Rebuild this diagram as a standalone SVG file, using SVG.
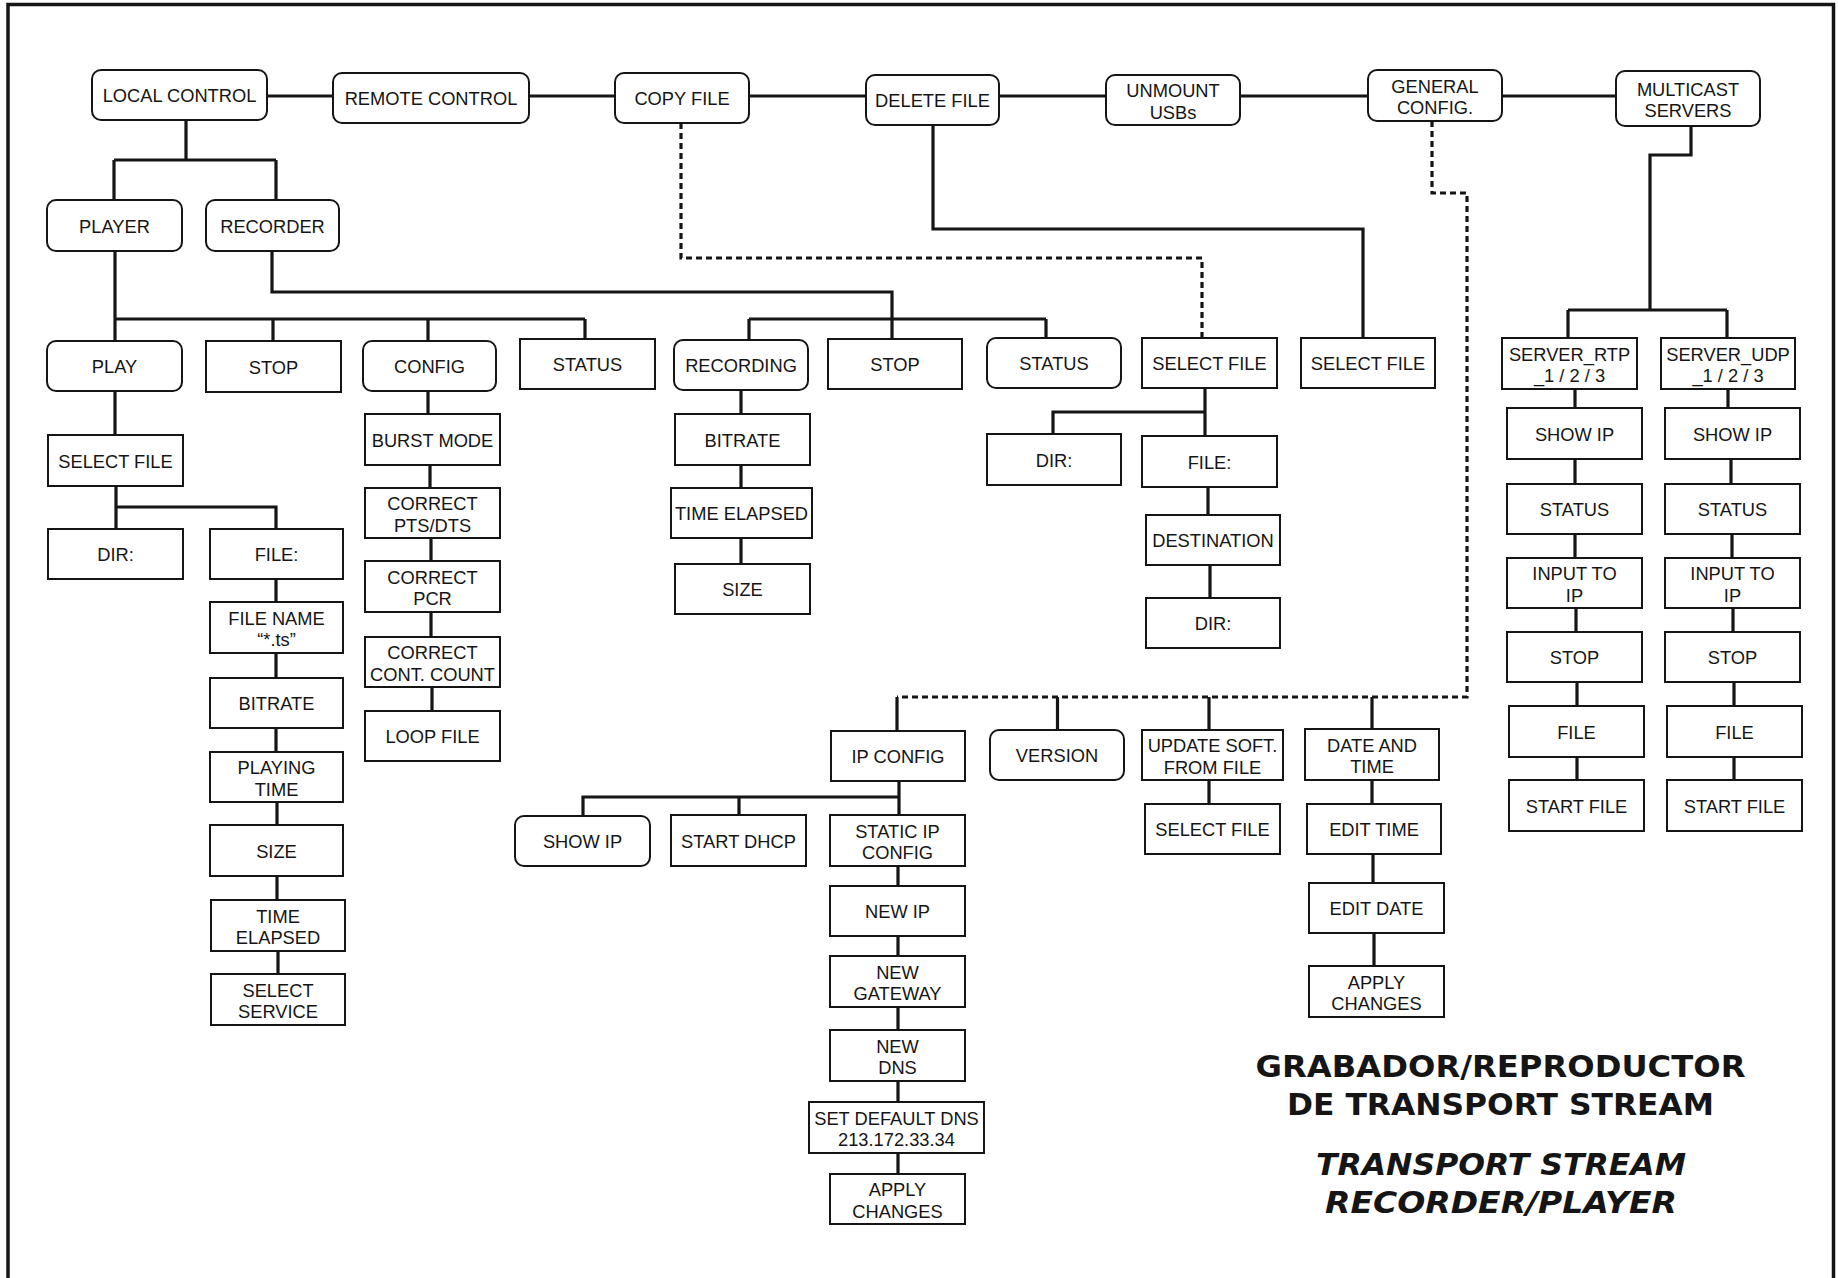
<svg xmlns="http://www.w3.org/2000/svg" width="1838" height="1278" viewBox="0 0 1838 1278">
<style>
.b{fill:#fff;stroke:#151515;stroke-width:2}
.t{font-family:"Liberation Sans",Arial,sans-serif;font-size:18.3px;text-anchor:middle;fill:#151515}
.c{fill:none;stroke:#151515;stroke-width:3.2}
.d{fill:none;stroke:#151515;stroke-width:3.2;stroke-dasharray:6 4}
.h{font-family:"DejaVu Sans",Verdana,sans-serif;font-weight:bold;font-size:30px;text-anchor:middle;fill:#151515}
</style>
<rect x="0" y="0" width="1838" height="1278" fill="#fff"/>
<rect x="8" y="4.5" width="1825.5" height="1300" fill="none" stroke="#151515" stroke-width="3.5"/>
<g id="connectors">
<path class="c" d="M267 96H333M529 96H615M749 96H866M999 96H1106M1240 96H1368M1502 96H1616"/>
<path class="c" d="M186 120V160M114 160H276M114 160V200M276 160V200"/>
<path class="c" d="M115 251V319H585M115 319V341M273 319V341M428 319V341M585 319V339"/>
<path class="c" d="M272 251V292H892V319M749 319H1046M749 319V340M892 319V339M1046 319V338"/>
<path class="c" d="M933 125V229H1363V338"/>
<path class="c" d="M1691 126V155H1650V310M1568 310H1727M1568 310V338M1727 310V338"/>
<path class="c" d="M115 391V435M116 486V507H276V529M116 507V529"/>
<path class="c" d="M276 579V602M276 653V678M276 728V752M277 802V825M277 876V900M278 951V974"/>
<path class="c" d="M428 391V414M430 465V488M431 538V561M431 612V637M432 687V711"/>
<path class="c" d="M741 390V414M741 465V488M741 538V564"/>
<path class="c" d="M1205 388V412H1053V434M1205 412V436M1208 487V515M1210 565V598"/>
<path class="c" d="M1575 389V408M1575 459V484M1575 534V558M1576 608V632M1577 682V706M1577 757V780"/>
<path class="c" d="M1728 389V408M1731 459V484M1732 534V558M1733 608V632M1734 682V706M1734 757V780"/>
<path class="c" d="M897 697V731M1057.5 697V730M1209 697V730M1372 697V729"/>
<path class="c" d="M899 781V797H583V816M739 797V815M899 797V815"/>
<path class="c" d="M898 866V886M898 936V956M898 1007V1030M898 1081V1102M898 1153V1174"/>
<path class="c" d="M1209 780V804M1372 780V804M1373 854V883M1374 933V966"/>
<path class="d" d="M681 123V258H1202V338"/>
<path class="d" d="M1432 121V193H1467V697H897"/>
</g>
<g id="local-control"><rect class="b" x="92" y="70" width="175" height="50" rx="9"/><text class="t" x="179.5" y="102">LOCAL CONTROL</text></g>
<g id="remote-control"><rect class="b" x="333" y="73" width="196" height="50" rx="9"/><text class="t" x="431" y="105">REMOTE CONTROL</text></g>
<g id="copy-file"><rect class="b" x="615" y="73" width="134" height="50" rx="9"/><text class="t" x="682" y="105">COPY FILE</text></g>
<g id="delete-file"><rect class="b" x="866" y="75" width="133" height="50" rx="9"/><text class="t" x="932.5" y="107">DELETE FILE</text></g>
<g id="unmount-usbs"><rect class="b" x="1106" y="75" width="134" height="50" rx="9"/><text class="t"><tspan x="1173" y="97">UNMOUNT</tspan><tspan x="1173" y="118.5">USBs</tspan></text></g>
<g id="general-config"><rect class="b" x="1368" y="70" width="134" height="51" rx="9"/><text class="t"><tspan x="1435" y="92.5">GENERAL</tspan><tspan x="1435" y="114">CONFIG.</tspan></text></g>
<g id="multicast-servers"><rect class="b" x="1616" y="71" width="144" height="55" rx="9"/><text class="t"><tspan x="1688" y="95.5">MULTICAST</tspan><tspan x="1688" y="117">SERVERS</tspan></text></g>
<g id="player"><rect class="b" x="47" y="200" width="135" height="51" rx="9"/><text class="t" x="114.5" y="232.5">PLAYER</text></g>
<g id="recorder"><rect class="b" x="206" y="200" width="133" height="51" rx="9"/><text class="t" x="272.5" y="232.5">RECORDER</text></g>
<g id="play"><rect class="b" x="47" y="341" width="135" height="50" rx="9"/><text class="t" x="114.5" y="373">PLAY</text></g>
<g id="player-stop"><rect class="b" x="206" y="341" width="135" height="51"/><text class="t" x="273.5" y="373.5">STOP</text></g>
<g id="config"><rect class="b" x="363" y="341" width="133" height="50" rx="9"/><text class="t" x="429.5" y="373">CONFIG</text></g>
<g id="player-status"><rect class="b" x="520" y="339" width="135" height="50"/><text class="t" x="587.5" y="371">STATUS</text></g>
<g id="recording"><rect class="b" x="674" y="340" width="134" height="50" rx="9"/><text class="t" x="741" y="372">RECORDING</text></g>
<g id="recorder-stop"><rect class="b" x="828" y="339" width="134" height="50"/><text class="t" x="895" y="371">STOP</text></g>
<g id="recorder-status"><rect class="b" x="987" y="338" width="134" height="50" rx="9"/><text class="t" x="1054" y="370">STATUS</text></g>
<g id="copy-select-file"><rect class="b" x="1142" y="338" width="135" height="50"/><text class="t" x="1209.5" y="370">SELECT FILE</text></g>
<g id="delete-select-file"><rect class="b" x="1301" y="338" width="134" height="50"/><text class="t" x="1368" y="370">SELECT FILE</text></g>
<g id="server-rtp"><rect class="b" x="1502" y="338" width="135" height="51"/><text class="t"><tspan x="1569.5" y="360.5">SERVER_RTP</tspan><tspan x="1569.5" y="382">_1 / 2 / 3</tspan></text></g>
<g id="server-udp"><rect class="b" x="1661" y="338" width="134" height="51"/><text class="t"><tspan x="1728" y="360.5">SERVER_UDP</tspan><tspan x="1728" y="382">_1 / 2 / 3</tspan></text></g>
<g id="player-select-file"><rect class="b" x="48" y="435" width="135" height="51"/><text class="t" x="115.5" y="467.5">SELECT FILE</text></g>
<g id="player-dir"><rect class="b" x="48" y="529" width="135" height="50"/><text class="t" x="115.5" y="561">DIR:</text></g>
<g id="player-file"><rect class="b" x="210" y="529" width="133" height="50"/><text class="t" x="276.5" y="561">FILE:</text></g>
<g id="file-name"><rect class="b" x="210" y="602" width="133" height="51"/><text class="t"><tspan x="276.5" y="624.5">FILE NAME</tspan><tspan x="276.5" y="646">“*.ts”</tspan></text></g>
<g id="player-bitrate"><rect class="b" x="210" y="678" width="133" height="50"/><text class="t" x="276.5" y="710">BITRATE</text></g>
<g id="playing-time"><rect class="b" x="210" y="752" width="133" height="50"/><text class="t"><tspan x="276.5" y="774">PLAYING</tspan><tspan x="276.5" y="795.5">TIME</tspan></text></g>
<g id="player-size"><rect class="b" x="210" y="825" width="133" height="51"/><text class="t" x="276.5" y="857.5">SIZE</text></g>
<g id="player-time-elapsed"><rect class="b" x="211" y="900" width="134" height="51"/><text class="t"><tspan x="278" y="922.5">TIME</tspan><tspan x="278" y="944">ELAPSED</tspan></text></g>
<g id="select-service"><rect class="b" x="211" y="974" width="134" height="51"/><text class="t"><tspan x="278" y="996.5">SELECT</tspan><tspan x="278" y="1018">SERVICE</tspan></text></g>
<g id="burst-mode"><rect class="b" x="365" y="414" width="135" height="51"/><text class="t" x="432.5" y="446.5">BURST MODE</text></g>
<g id="correct-pts-dts"><rect class="b" x="365" y="488" width="135" height="50"/><text class="t"><tspan x="432.5" y="510">CORRECT</tspan><tspan x="432.5" y="531.5">PTS/DTS</tspan></text></g>
<g id="correct-pcr"><rect class="b" x="365" y="561" width="135" height="51"/><text class="t"><tspan x="432.5" y="583.5">CORRECT</tspan><tspan x="432.5" y="605">PCR</tspan></text></g>
<g id="correct-cont-count"><rect class="b" x="365" y="637" width="135" height="50"/><text class="t"><tspan x="432.5" y="659">CORRECT</tspan><tspan x="432.5" y="680.5">CONT. COUNT</tspan></text></g>
<g id="loop-file"><rect class="b" x="365" y="711" width="135" height="50"/><text class="t" x="432.5" y="743">LOOP FILE</text></g>
<g id="rec-bitrate"><rect class="b" x="675" y="414" width="135" height="51"/><text class="t" x="742.5" y="446.5">BITRATE</text></g>
<g id="rec-time-elapsed"><rect class="b" x="671" y="488" width="141" height="50"/><text class="t" x="741.5" y="520">TIME ELAPSED</text></g>
<g id="rec-size"><rect class="b" x="675" y="564" width="135" height="50"/><text class="t" x="742.5" y="596">SIZE</text></g>
<g id="copy-dir"><rect class="b" x="987" y="434" width="134" height="51"/><text class="t" x="1054" y="466.5">DIR:</text></g>
<g id="copy-file-sel"><rect class="b" x="1142" y="436" width="135" height="51"/><text class="t" x="1209.5" y="468.5">FILE:</text></g>
<g id="destination"><rect class="b" x="1146" y="515" width="134" height="50"/><text class="t" x="1213" y="547">DESTINATION</text></g>
<g id="dest-dir"><rect class="b" x="1146" y="598" width="134" height="50"/><text class="t" x="1213" y="630">DIR:</text></g>
<g id="rtp-show-ip"><rect class="b" x="1507" y="408" width="135" height="51"/><text class="t" x="1574.5" y="440.5">SHOW IP</text></g>
<g id="rtp-status"><rect class="b" x="1507" y="484" width="135" height="50"/><text class="t" x="1574.5" y="516">STATUS</text></g>
<g id="rtp-input"><rect class="b" x="1507" y="558" width="135" height="50"/><text class="t"><tspan x="1574.5" y="580">INPUT TO</tspan><tspan x="1574.5" y="601.5">IP</tspan></text></g>
<g id="rtp-stop"><rect class="b" x="1507" y="632" width="135" height="50"/><text class="t" x="1574.5" y="664">STOP</text></g>
<g id="rtp-file"><rect class="b" x="1509" y="706" width="135" height="51"/><text class="t" x="1576.5" y="738.5">FILE</text></g>
<g id="rtp-start-file"><rect class="b" x="1509" y="780" width="135" height="51"/><text class="t" x="1576.5" y="812.5">START FILE</text></g>
<g id="udp-show-ip"><rect class="b" x="1665" y="408" width="135" height="51"/><text class="t" x="1732.5" y="440.5">SHOW IP</text></g>
<g id="udp-status"><rect class="b" x="1665" y="484" width="135" height="50"/><text class="t" x="1732.5" y="516">STATUS</text></g>
<g id="udp-input"><rect class="b" x="1665" y="558" width="135" height="50"/><text class="t"><tspan x="1732.5" y="580">INPUT TO</tspan><tspan x="1732.5" y="601.5">IP</tspan></text></g>
<g id="udp-stop"><rect class="b" x="1665" y="632" width="135" height="50"/><text class="t" x="1732.5" y="664">STOP</text></g>
<g id="udp-file"><rect class="b" x="1667" y="706" width="135" height="51"/><text class="t" x="1734.5" y="738.5">FILE</text></g>
<g id="udp-start-file"><rect class="b" x="1667" y="780" width="135" height="51"/><text class="t" x="1734.5" y="812.5">START FILE</text></g>
<g id="ip-config"><rect class="b" x="831" y="731" width="134" height="50"/><text class="t" x="898" y="763">IP CONFIG</text></g>
<g id="version"><rect class="b" x="990" y="730" width="134" height="50" rx="9"/><text class="t" x="1057" y="762">VERSION</text></g>
<g id="update-soft"><rect class="b" x="1142" y="730" width="141" height="50"/><text class="t"><tspan x="1212.5" y="752">UPDATE SOFT.</tspan><tspan x="1212.5" y="773.5">FROM FILE</tspan></text></g>
<g id="date-time"><rect class="b" x="1305" y="729" width="134" height="51"/><text class="t"><tspan x="1372" y="751.5">DATE AND</tspan><tspan x="1372" y="773">TIME</tspan></text></g>
<g id="ip-show-ip"><rect class="b" x="515" y="816" width="135" height="50" rx="9"/><text class="t" x="582.5" y="848">SHOW IP</text></g>
<g id="start-dhcp"><rect class="b" x="671" y="815" width="135" height="51"/><text class="t" x="738.5" y="847.5">START DHCP</text></g>
<g id="static-ip-config"><rect class="b" x="830" y="815" width="135" height="51"/><text class="t"><tspan x="897.5" y="837.5">STATIC IP</tspan><tspan x="897.5" y="859">CONFIG</tspan></text></g>
<g id="new-ip"><rect class="b" x="830" y="886" width="135" height="50"/><text class="t" x="897.5" y="918">NEW IP</text></g>
<g id="new-gateway"><rect class="b" x="830" y="956" width="135" height="51"/><text class="t"><tspan x="897.5" y="978.5">NEW</tspan><tspan x="897.5" y="1000">GATEWAY</tspan></text></g>
<g id="new-dns"><rect class="b" x="830" y="1030" width="135" height="51"/><text class="t"><tspan x="897.5" y="1052.5">NEW</tspan><tspan x="897.5" y="1074">DNS</tspan></text></g>
<g id="set-default-dns"><rect class="b" x="809" y="1102" width="175" height="51"/><text class="t"><tspan x="896.5" y="1124.5">SET DEFAULT DNS</tspan><tspan x="896.5" y="1146">213.172.33.34</tspan></text></g>
<g id="ip-apply-changes"><rect class="b" x="830" y="1174" width="135" height="50"/><text class="t"><tspan x="897.5" y="1196">APPLY</tspan><tspan x="897.5" y="1217.5">CHANGES</tspan></text></g>
<g id="update-select-file"><rect class="b" x="1145" y="804" width="135" height="50"/><text class="t" x="1212.5" y="836">SELECT FILE</text></g>
<g id="edit-time"><rect class="b" x="1307" y="804" width="134" height="50"/><text class="t" x="1374" y="836">EDIT TIME</text></g>
<g id="edit-date"><rect class="b" x="1309" y="883" width="135" height="50"/><text class="t" x="1376.5" y="915">EDIT DATE</text></g>
<g id="date-apply-changes"><rect class="b" x="1309" y="966" width="135" height="51"/><text class="t"><tspan x="1376.5" y="988.5">APPLY</tspan><tspan x="1376.5" y="1010">CHANGES</tspan></text></g>
<g id="title">
<text class="h" x="1500.5" y="1077" textLength="490" lengthAdjust="spacingAndGlyphs">GRABADOR/REPRODUCTOR</text>
<text class="h" x="1500.5" y="1115" textLength="427" lengthAdjust="spacingAndGlyphs">DE TRANSPORT STREAM</text>
<text class="h" x="1501" y="1175" font-style="italic" textLength="370" lengthAdjust="spacingAndGlyphs">TRANSPORT STREAM</text>
<text class="h" x="1501" y="1213" font-style="italic" textLength="352" lengthAdjust="spacingAndGlyphs">RECORDER/PLAYER</text>
</g>
</svg>
